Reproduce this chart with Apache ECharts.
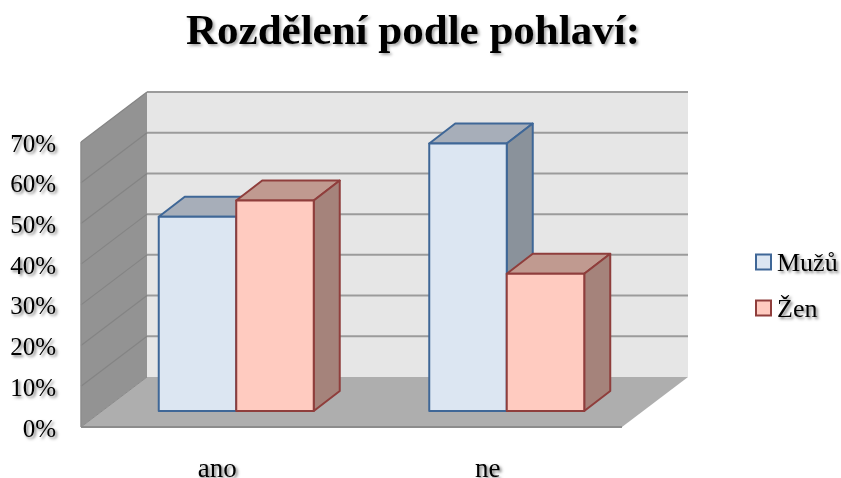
<!DOCTYPE html>
<html><head><meta charset="utf-8">
<style>html,body{margin:0;padding:0;background:#fff}#c{width:841px;height:478px}</style>
<script src="https://cdn.jsdelivr.net/npm/echarts@6/dist/echarts.min.js"></script>
</head><body><div id="c"></div>
<script>
const categories = ['ano', 'ne'];
const muzi = [47.7, 65.7];
const zeny = [51.7, 33.7];
const ticks = [0, 10, 20, 30, 40, 50, 60, 70];
const seriesNames = ['Mužů', 'Žen'];

const DEPTH = [66, -50];          // whole floor depth, in pixels
const FRONT = [20, -16];          // front face of the bars
const BAR = [26, -20];            // depth of a bar
const BAR_SHARE = 0.2865;         // bar width as a share of the category band
const FONT = '"Liberation Serif", "Times New Roman", serif';
const shadow = {textShadowColor: 'rgba(0,0,0,0.5)', textShadowBlur: 3, textShadowOffsetX: 2, textShadowOffsetY: 2};

const add = (p, d) => [p[0] + d[0], p[1] + d[1]];
const poly = (points, fill, stroke, w) => ({
  type: 'polygon', shape: {points},
  style: {fill, stroke: stroke || null, lineWidth: w || 0, lineJoin: 'round'}
});
const line = (a, b, stroke, w) => ({
  type: 'line', shape: {x1: a[0], y1: a[1], x2: b[0], y2: b[1]},
  style: {stroke, lineWidth: w}
});

function renderRoom(params, api) {
  const cs = params.coordSys;
  const l = cs.x, r = cs.x + cs.width;
  const yOf = v => api.coord([categories[0], v])[1];
  const y0 = yOf(ticks[0]), yT = yOf(ticks[ticks.length - 1]);
  const kids = [
    poly([add([l, yT], DEPTH), add([r, yT], DEPTH), add([r, y0], DEPTH), add([l, y0], DEPTH)], '#e6e6e6'),
    poly([[l, yT], add([l, yT], DEPTH), add([l, y0], DEPTH), [l, y0]], '#939393'),
    poly([[l, y0], [r, y0], add([r, y0], DEPTH), add([l, y0], DEPTH)], '#aeaeae')
  ];
  ticks.slice(1).forEach(t => {
    const y = yOf(t);
    kids.push(line(add([l, y], DEPTH), add([r, y], DEPTH), '#9b9b9b', 2));
    kids.push(line([l, y], add([l, y], DEPTH), '#848484', 1.2));
  });
  kids.push(line([l, y0], add([l, y0], DEPTH), '#8a8a8a', 1));
  kids.push(line([l, y0], [r, y0], '#8c8c8c', 2));
  kids.push(line([l, yT], [l, y0], '#8c8c8c', 1.5));
  return {type: 'group', children: kids};
}

function barRenderer(side, fill, top, dark, stroke) {
  return function (params, api) {
    const c = api.coord([api.value(0), api.value(1)]);
    const base = api.coord([api.value(0), 0]);
    const w = api.size([1, 0])[0] * BAR_SHARE;
    const x0 = c[0] + (side < 0 ? -w : 0) + FRONT[0];
    const x1 = x0 + w;
    const yt = c[1] + FRONT[1], yb = base[1] + FRONT[1];
    const tl = [x0, yt], tr = [x1, yt], bl = [x0, yb], br = [x1, yb];
    return {type: 'group', children: [
      poly([tl, tr, add(tr, BAR), add(tl, BAR)], top, stroke, 2),
      poly([tr, add(tr, BAR), add(br, BAR), br], dark, stroke, 2),
      poly([tl, tr, br, bl], fill, stroke, 2)
    ]};
  };
}

const chart = echarts.init(document.getElementById('c'), null, {renderer: 'canvas'});
chart.setOption({
  animation: false,
  backgroundColor: '#fff',
  title: {
    text: 'Rozdělení podle pohlaví:', left: 408, top: 6, textAlign: 'center',
    textStyle: {fontFamily: FONT, fontSize: 43, fontWeight: 'bold', color: '#000',
      textShadowColor: 'rgba(0,0,0,0.35)', textShadowBlur: 3, textShadowOffsetX: 2, textShadowOffsetY: 2}
  },
  legend: {
    orient: 'vertical', left: 755, top: 251, padding: 0, itemWidth: 15, itemHeight: 15, itemGap: 20,
    data: seriesNames, icon: 'rect', selectedMode: false,
    formatter: name => '{t|' + name + '}',
    textStyle: {fontFamily: FONT, fontSize: 26, color: '#000',
      rich: {t: {fontFamily: FONT, fontSize: 26, color: '#000', padding: [4, 0, 0, 1], ...shadow}}}
  },
  grid: {left: 81, top: 142, width: 541, height: 285, outerBoundsMode: 'none'},
  xAxis: {
    type: 'category', data: categories,
    axisLine: {show: false}, axisTick: {show: false}, splitLine: {show: false},
    axisLabel: {margin: 29, fontFamily: FONT, fontSize: 27, color: '#000', padding: [0, 0, 0, 2], ...shadow}
  },
  yAxis: {
    type: 'value', min: 0, max: 70, interval: 10,
    axisLine: {show: false}, axisTick: {show: false}, splitLine: {show: false},
    axisLabel: {formatter: '{value}%', margin: 25, fontFamily: FONT, fontSize: 25, color: '#000', verticalAlign: 'top', lineHeight: 6, ...shadow}
  },
  series: [
    {type: 'custom', name: 'room', silent: true, z: 1, data: [[categories[0], 0]], renderItem: renderRoom, encode: {x: 0, y: 1}},
    {type: 'custom', name: seriesNames[0], z: 2, renderItem: barRenderer(-1, '#dce6f2', '#a7aeb9', '#8a929b', '#3f6797'),
      itemStyle: {color: '#dce6f2', borderColor: '#3f6797', borderWidth: 2},
      data: categories.map((c, i) => [c, muzi[i]]), encode: {x: 0, y: 1}},
    {type: 'custom', name: seriesNames[1], z: 3, renderItem: barRenderer(1, '#ffcbc0', '#c09a90', '#a5837b', '#8f3e3c'),
      itemStyle: {color: '#ffcbc0', borderColor: '#8f3e3c', borderWidth: 2},
      data: categories.map((c, i) => [c, zeny[i]]), encode: {x: 0, y: 1}}
  ]
});
</script></body></html>
